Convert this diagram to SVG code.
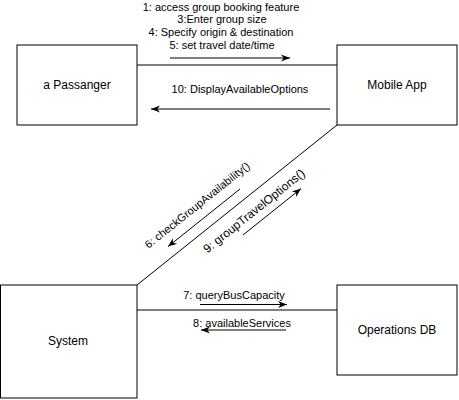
<svg xmlns="http://www.w3.org/2000/svg" width="459" height="400" viewBox="0 0 459 400">
<style>
.node{fill:#fff;stroke:#000;stroke-width:1}
.nt{font-family:"Liberation Sans",Arial,sans-serif;font-size:12px;fill:#000;text-anchor:middle;dominant-baseline:central}
.lt{font-family:"Liberation Sans",Arial,sans-serif;font-size:11px;fill:#000;text-anchor:middle;dominant-baseline:central}
.conn{fill:none;stroke:#000;stroke-width:1}
.arr{fill:none;stroke:#000;stroke-width:1;marker-end:url(#ah)}
</style>
<defs>
<marker id="ah" viewBox="0 0 10 10" markerWidth="9" markerHeight="9" refX="10" refY="5" orient="auto" markerUnits="userSpaceOnUse">
<path d="M0,1 L10,5 L0,9 L3,5 z" fill="#000"/>
</marker>
</defs>
<g id="connectors">
<path class="conn" d="M137,65 H337"/>
<path class="conn" d="M337,125 L137,285"/>
<path class="conn" d="M137,310 H337"/>
<path class="arr" d="M170,58 H290"/>
<path class="arr" d="M330,109 H151"/>
<path class="arr" d="M240,189 L168,246.6"/>
<path class="arr" d="M243,235 L301,188.6"/>
<path class="arr" d="M200,304.5 H287"/>
<path class="arr" d="M286,330 H201"/>
<text class="lt" x="221" y="7">1: access group booking feature</text>
<text class="lt" x="222" y="19">3:Enter group size</text>
<text class="lt" x="221" y="32">4: Specify origin &amp; destination</text>
<text class="lt" x="222" y="45">5: set travel date/time</text>
<text class="lt" x="240" y="89">10: DisplayAvailableOptions</text>
<text class="lt" x="197" y="205" transform="rotate(-38.66 197 205)">6: checkGroupAvailability()</text>
<text class="lt" x="254" y="211" font-size="12" style="font-size:12px" transform="rotate(-38.66 254 211)">9: groupTravelOptions()</text>
<text class="lt" x="234" y="295">7: queryBusCapacity</text>
<text class="lt" x="242" y="323">8: availableServices</text>
</g>
<g id="passenger">
<rect class="node" x="17" y="45" width="120" height="80"/>
<text class="nt" x="77" y="85">a Passanger</text>
</g>
<g id="mobileapp">
<rect class="node" x="337" y="45" width="120" height="80"/>
<text class="nt" x="397" y="85">Mobile App</text>
</g>
<g id="system">
<rect class="node" x="0.5" y="285" width="136.5" height="113"/>
<text class="nt" x="68" y="341">System</text>
</g>
<g id="opsdb">
<rect class="node" x="337" y="285" width="120" height="90"/>
<text class="nt" x="397" y="330">Operations DB</text>
</g>
</svg>
